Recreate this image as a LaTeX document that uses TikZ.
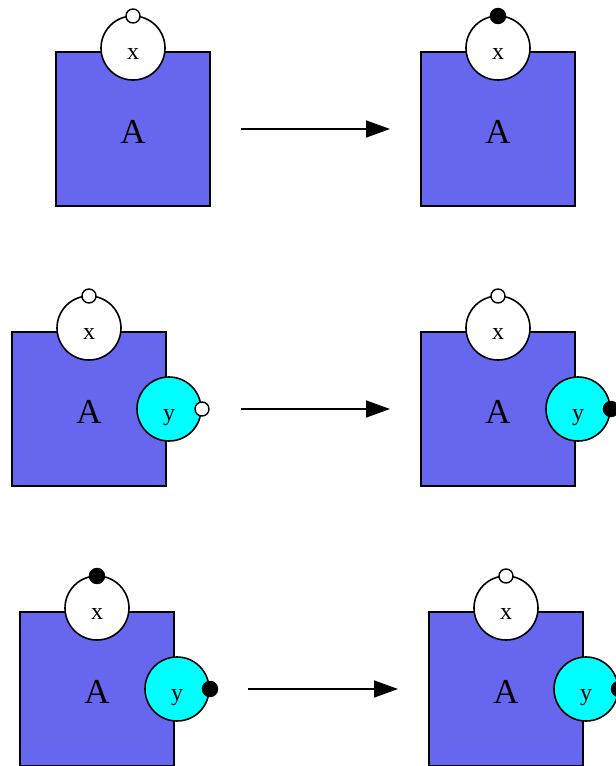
\documentclass[tikz,border=0pt]{standalone}
\usepackage{fontspec}
\setmainfont{Liberation Serif}
\usetikzlibrary{arrows.meta}
\definecolor{boxblue}{RGB}{102,102,238}
\definecolor{sitecyan}{RGB}{0,255,255}
\begin{document}
\begin{tikzpicture}[x=1pt,y=-1pt,
  box/.style={draw=black,line width=1.6pt,fill=boxblue,rectangle,minimum size=154pt,inner sep=0pt,font=\fontsize{35}{35}\selectfont,text height=28pt,text depth=0pt},
  xsite/.style={draw=black,line width=1.6pt,fill=white,circle,minimum size=64pt,inner sep=0pt,font=\fontsize{24}{24}\selectfont,text height=22pt,text depth=0pt},
  ysite/.style={xsite,fill=sitecyan},
  freeport/.style={draw=black,line width=1.4pt,fill=white,circle,minimum size=14pt,inner sep=0pt},
  boundport/.style={draw=black,line width=1.4pt,fill=black,circle,minimum size=15pt,inner sep=0pt},
  rule/.style={line width=1.6pt,-{Triangle[length=24pt,width=17pt]}}]
\useasboundingbox (0,0) rectangle (616,766);
\clip (0,0) rectangle (616,766);
% row 1
\node[box] (a1) at (133,129) {A};
\node[xsite] (x1) at (133,48) {x};
\node[freeport] (px1) at (133,16) {};
\node[box] (b1) at (498,129) {A};
\node[xsite] (bx1) at (498,48) {x};
\node[boundport] (bpx1) at (498,16) {};
\coordinate (s1) at (241,129);
\coordinate (e1) at (390,129);
\draw[rule] (s1) -- (e1);
% row 2
\node[box] (a2) at (89,409) {A};
\node[xsite] (x2) at (89,328) {x};
\node[freeport] (px2) at (89,296) {};
\node[ysite] (y2) at (169,409) {y};
\node[freeport] (py2) at (202,409) {};
\node[box] (b2) at (498,409) {A};
\node[xsite] (bx2) at (498,328) {x};
\node[freeport] (bpx2) at (498,296) {};
\node[ysite] (by2) at (578,409) {y};
\node[boundport] (bpy2) at (611,409) {};
\coordinate (s2) at (241,409);
\coordinate (e2) at (390,409);
\draw[rule] (s2) -- (e2);
% row 3
\node[box] (a3) at (97,689) {A};
\node[xsite] (x3) at (97,608) {x};
\node[boundport] (px3) at (97,576) {};
\node[ysite] (y3) at (177,689) {y};
\node[boundport] (py3) at (210,689) {};
\node[box] (b3) at (506,689) {A};
\node[xsite] (bx3) at (506,608) {x};
\node[freeport] (bpx3) at (506,576) {};
\node[ysite] (by3) at (586,689) {y};
\node[boundport] (bpy3) at (619,689) {};
\coordinate (s3) at (248,689);
\coordinate (e3) at (398,689);
\draw[rule] (s3) -- (e3);
\end{tikzpicture}
\end{document}
